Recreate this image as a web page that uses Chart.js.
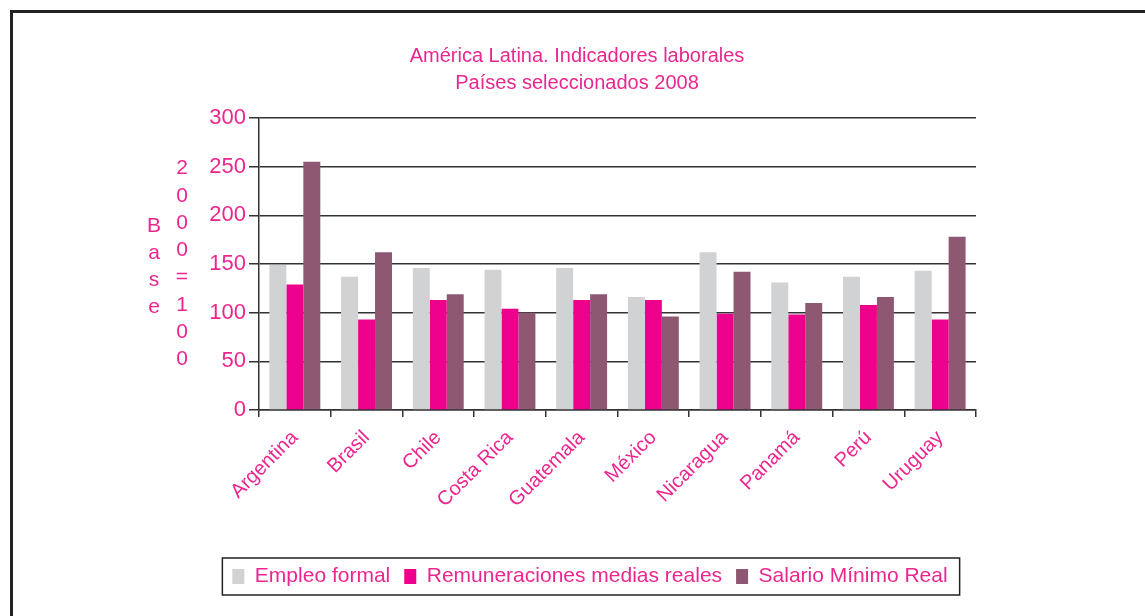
<!DOCTYPE html>
<html>
<head>
<meta charset="utf-8">
<script src="https://cdn.jsdelivr.net/npm/chart.js@4/dist/chart.umd.min.js"></script>
<style>
  html, body { margin: 0; padding: 0; background: #fff; overflow: hidden; }
  #frame { position: absolute; left: 10px; top: 10px; width: 1400px; height: 900px;
           border-left: 3px solid #222; border-top: 3px solid #222; }
  #wrap { position: absolute; left: 0; top: 0; width: 1145px; height: 616px; }
</style>
</head>
<body>
<div id="frame"></div>
<div id="wrap"><canvas id="chart" width="1145" height="616"></canvas></div>
<script>
// datos (Base 2000 = 100)
const categories = ['Argentina', 'Brasil', 'Chile', 'Costa Rica', 'Guatemala', 'México', 'Nicaragua', 'Panamá', 'Perú', 'Uruguay'];
const empleoFormal = [149, 137, 146, 144, 146, 116, 162, 131, 137, 143];
const remuneraciones = [129, 93, 113, 104, 113, 113, 99, 98, 108, 93];
const salarioMinimo = [255, 162, 119, 100, 119, 96, 142, 110, 116, 178];
const yTicks = [0, 50, 100, 150, 200, 250, 300];

const PINK_TEXT = '#EC268F';
const FONT = "'Liberation Sans', Arial, sans-serif";

// eje Y: "Base" y "2000=100" en letras apiladas
const axisLetters = {
    id: 'axisLetters',
    afterDraw(chart) {
        const { ctx, chartArea } = chart;
        const mid = (chartArea.top + chartArea.bottom) / 2;
        const step = 27.3;
        const col2 = '2000=100'.split('');
        const col1 = 'Base'.split('');
        ctx.save();
        ctx.font = `21px ${FONT}`;
        ctx.fillStyle = PINK_TEXT;
        ctx.textAlign = 'center';
        ctx.textBaseline = 'middle';
        col2.forEach((c, i) => {
            ctx.fillText(c, chartArea.left - 77, mid + (i - 3.5) * step);
        });
        col1.forEach((c, i) => {
            ctx.fillText(c, chartArea.left - 105, mid + (i - 1.4) * step);
        });
        ctx.restore();
    }
};

// título y leyenda corridos a la derecha como en el original, recuadro de la leyenda
const shiftBoxes = {
    id: 'shiftBoxes',
    afterLayout(chart) {
        const lg = chart.legend;
        if (lg) { lg.left += 37; lg.right += 37; }
        const tt = chart.titleBlock;
        if (tt) { tt.left += 24; tt.right += 24; }
    },
    afterDraw(chart) {
        const boxes = chart.legend && chart.legend.legendHitBoxes;
        if (!boxes || !boxes.length) return;
        const left = Math.min(...boxes.map(b => b.left));
        const right = Math.max(...boxes.map(b => b.left + b.width));
        const top = Math.min(...boxes.map(b => b.top));
        const bottom = Math.max(...boxes.map(b => b.top + b.height));
        const ctx = chart.ctx;
        ctx.save();
        ctx.strokeStyle = '#222';
        ctx.lineWidth = 1.5;
        ctx.strokeRect(left - 10, top - 8, right - left + 22, bottom - top + 16);
        ctx.restore();
    }
};

new Chart(document.getElementById('chart'), {
    type: 'bar',
    data: {
        labels: categories,
        datasets: [
            { label: 'Empleo formal', data: empleoFormal, backgroundColor: '#D1D2D4' },
            { label: 'Remuneraciones medias reales', data: remuneraciones, backgroundColor: '#EC008C' },
            { label: 'Salario Mínimo Real', data: salarioMinimo, backgroundColor: '#8E5872' }
        ]
    },
    options: {
        responsive: false,
        animation: false,
        devicePixelRatio: 1,
        layout: { padding: { left: 130, right: 169, top: 0, bottom: 19 } },
        datasets: { bar: { categoryPercentage: 0.71, barPercentage: 1.0, borderWidth: 0 } },
        plugins: {
            title: {
                display: true,
                text: ['América Latina. Indicadores laborales', 'Países seleccionados 2008'],
                color: PINK_TEXT,
                font: { family: FONT, size: 20, weight: 'normal', lineHeight: 1.35 },
                padding: { top: 43, bottom: 21 }
            },
            legend: {
                position: 'bottom',
                labels: {
                    color: PINK_TEXT,
                    font: { family: FONT, size: 21 },
                    boxWidth: 12,
                    boxHeight: 15,
                    padding: 14
                }
            },
            tooltip: { enabled: false }
        },
        scales: {
            x: {
                grid: { drawOnChartArea: false, tickLength: 7, color: '#333', lineWidth: 1.5 },
                border: { color: '#333', width: 1.5 },
                ticks: {
                    color: PINK_TEXT,
                    font: { family: FONT, size: 20 },
                    minRotation: 45,
                    maxRotation: 45,
                    padding: 9
                },
                afterFit(scale) { scale.height = 142; }
            },
            y: {
                min: 0,
                max: 300,
                afterBuildTicks(scale) { scale.ticks = yTicks.map(v => ({ value: v })); },
                grid: { color: '#333', lineWidth: 1.5, tickLength: 10 },
                border: { color: '#333', width: 1.5 },
                ticks: {
                    color: PINK_TEXT,
                    font: { family: FONT, size: 22 },
                    padding: 3
                },
                afterFit(scale) { scale.width = 129; }
            }
        }
    },
    plugins: [axisLetters, shiftBoxes]
});
</script>
</body>
</html>
